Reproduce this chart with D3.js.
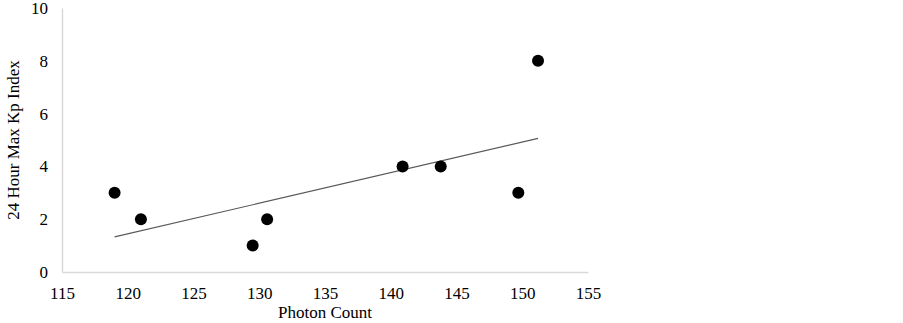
<!DOCTYPE html>
<html><head>
<meta charset="utf-8">
<script src="https://d3js.org/d3.v7.min.js"></script>
<style>
  body { margin: 0; background: #fff; }
  text { font-family: "Liberation Serif", "Times New Roman", serif; fill: #000; }
</style>
</head>
<body>
<svg id="scatterplot" width="903" height="323"></svg>
<script>
  // data
  const photonCount = [119, 121, 129.5, 130.6, 140.9, 143.8, 149.7, 151.2];
  const kpIndex     = [3, 2, 1, 2, 4, 4, 3, 8];
  const xTicks = [115, 120, 125, 130, 135, 140, 145, 150, 155];
  const yTicks = [0, 2, 4, 6, 8, 10];
  // trend line end points (linear trendline as drawn)
  const trendX = [119, 151.2];
  const trendY = [1.33, 5.06];

  const svg = d3.select("svg#scatterplot");
  const margins = {top: 8, left: 62, right: 315, bottom: 51};
  const width = +svg.attr("width");
  const height = +svg.attr("height");

  const xScale = d3.scaleLinear().domain([115, 155]).range([margins.left, width - margins.right]);
  const yScale = d3.scaleLinear().domain([0, 10]).range([height - margins.bottom, margins.top]);

  // axes: light grey lines, no tick marks
  let bottomAxis = d3.axisBottom(xScale).tickValues(xTicks).tickSize(0).tickPadding(15);
  svg.append("g")
     .attr("transform", "translate(0," + yScale(0) + ")")
     .call(bottomAxis)
     .call(g => g.select(".domain").attr("stroke", "#d9d9d9").attr("stroke-width", 1.5))
     .call(g => g.selectAll("text").style("font-size", "17px").style("font-family", "Liberation Serif"));

  let leftAxis = d3.axisLeft(yScale).tickValues(yTicks).tickSize(0).tickPadding(14);
  svg.append("g")
     .attr("transform", "translate(" + xScale(115) + ",0)")
     .call(leftAxis)
     .call(g => g.select(".domain").attr("stroke", "#d9d9d9").attr("stroke-width", 1.5))
     .call(g => g.selectAll("text").style("font-size", "17px").style("font-family", "Liberation Serif"));

  // trend line
  svg.append("line")
     .attr("x1", xScale(trendX[0])).attr("y1", yScale(trendY[0]))
     .attr("x2", xScale(trendX[1])).attr("y2", yScale(trendY[1]))
     .attr("stroke", "#595959").attr("stroke-width", 1.2);

  // points
  photonCount.forEach((d, i) => {
    svg.append("circle")
       .attr("cx", xScale(d))
       .attr("cy", yScale(kpIndex[i]))
       .attr("r", 6)
       .attr("fill", "#000");
  });

  // axis titles
  svg.append("text")
     .attr("x", (xScale(115) + xScale(155)) / 2)
     .attr("y", 318)
     .attr("text-anchor", "middle")
     .style("font-size", "17px")
     .text("Photon Count");

  svg.append("text")
     .attr("transform", "translate(19," + 140 + ") rotate(-90)")
     .attr("text-anchor", "middle")
     .style("font-size", "17px")
     .text("24 Hour Max Kp Index");
</script>
</body>
</html>
